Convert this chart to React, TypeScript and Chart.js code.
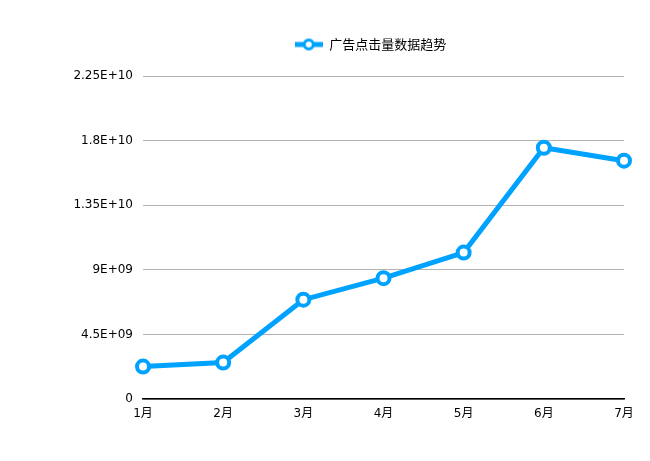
import React, { useEffect, useRef } from "react";
import { Chart, registerables } from "chart.js";

Chart.register(...registerables);

const categories = ["1月", "2月", "3月", "4月", "5月", "6月", "7月"];
const clicks = [2.26e9, 2.54e9, 6.92e9, 8.42e9, 1.02e10, 1.75e10, 1.66e10];
const seriesName = "广告点击量数据趋势";
const yMin = 0;
const yMax = 2.25e10;
const yStep = 4.5e9;

const LINE_COLOR = "#00a2ff";
const TICK_FONT = "'DejaVu Sans', 'Noto Sans CJK SC', sans-serif";
const LEGEND_FONT = "'Noto Sans CJK SC', 'DejaVu Sans', sans-serif";

function excelExp(v: number): string {
  if (v === 0) return "0";
  const [m, e] = v.toExponential().split("e");
  const sign = e[0] === "-" ? "-" : "+";
  const digits = e.replace(/[+-]/, "").padStart(2, "0");
  return `${m.toUpperCase()}E${sign}${digits}`;
}

function makeLegendIcon(): HTMLCanvasElement {
  const c = document.createElement("canvas");
  c.width = 28;
  c.height = 14;
  const ctx = c.getContext("2d")!;
  ctx.strokeStyle = LINE_COLOR;
  ctx.lineWidth = 5;
  ctx.beginPath();
  ctx.moveTo(0, 7);
  ctx.lineTo(28, 7);
  ctx.stroke();
  ctx.beginPath();
  ctx.arc(14, 7, 4.5, 0, Math.PI * 2);
  ctx.fillStyle = "#ffffff";
  ctx.fill();
  ctx.lineWidth = 3;
  ctx.stroke();
  return c;
}

export default function App() {
  const ref = useRef<HTMLCanvasElement | null>(null);

  useEffect(() => {
    if (!ref.current) return;
    const icon = makeLegendIcon();

    const legendPlugin = {
      id: "legendTweak",
      beforeInit(chart: any) {
        const orig = chart.legend.fit;
        chart.legend.fit = function () {
          orig.call(this);
          this.height += 15;
        };
      },
      afterLayout(chart: any) {
        const lg = chart.legend;
        lg.left -= 13;
        lg.right -= 13;
      },
    };

    const chart = new Chart(ref.current, {
      type: "line",
      data: {
        labels: categories,
        datasets: [
          {
            label: seriesName,
            data: clicks,
            borderColor: LINE_COLOR,
            backgroundColor: "#ffffff",
            borderWidth: 5,
            pointRadius: 6,
            pointBorderWidth: 4,
            pointBackgroundColor: "#ffffff",
            pointBorderColor: LINE_COLOR,
            pointStyle: "circle",
            tension: 0,
            fill: false,
          },
        ],
      },
      options: {
        animation: false,
        responsive: false,
        maintainAspectRatio: false,
        layout: { padding: { top: 28, right: 26, bottom: 0, left: 0 } },
        plugins: {
          legend: {
            display: true,
            position: "top",
            fullSize: false,
            labels: {
              usePointStyle: true,
              pointStyleWidth: 28,
              padding: 10,
              color: "#000000",
              font: { family: LEGEND_FONT, size: 13 },
              generateLabels: (c: any) =>
                c.data.datasets.map((ds: any, i: number) => ({
                  text: ds.label,
                  pointStyle: icon,
                  fillStyle: LINE_COLOR,
                  strokeStyle: LINE_COLOR,
                  lineWidth: 0,
                  hidden: false,
                  datasetIndex: i,
                  fontColor: "#000000",
                })),
            },
          },
          tooltip: { enabled: false },
        },
        scales: {
          x: {
            type: "category",
            offset: false,
            grid: { display: false, drawTicks: false },
            border: { display: true, color: "#000000", width: 1.5 },
            ticks: {
              padding: 8,
              color: "#000000",
              font: { family: TICK_FONT, size: 12 },
              maxRotation: 0,
            },
            afterFit: (s: any) => {
              s.height = 62;
            },
          },
          y: {
            min: yMin,
            max: yMax,
            grid: { color: "#b3b3b3", lineWidth: 1, drawTicks: false },
            border: { display: false },
            ticks: {
              stepSize: yStep,
              padding: 10,
              color: "#000000",
              font: { family: TICK_FONT, size: 12 },
              callback: (v: any) => excelExp(Number(v)),
            },
            afterFit: (s: any) => {
              s.width = 143;
            },
          },
        },
      },
      plugins: [legendPlugin],
    });

    return () => chart.destroy();
  }, []);

  return (
    <div style={{ position: "absolute", left: 0, top: 0, width: 650, height: 461, background: "#ffffff" }}>
      <canvas ref={ref} width={650} height={461} style={{ display: "block" }} />
    </div>
  );
}
